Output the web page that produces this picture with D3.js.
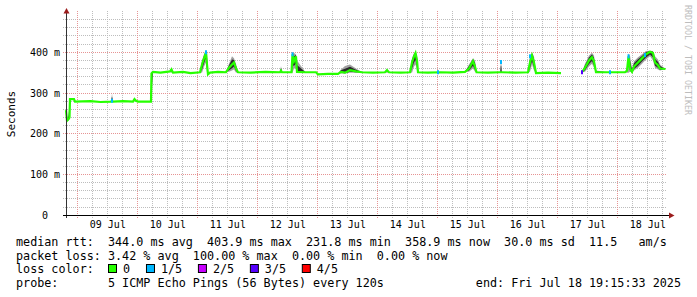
<!DOCTYPE html>
<html>
<head>
<meta charset="utf-8">
<script src="https://cdn.jsdelivr.net/npm/d3@7"></script>
<style>
  body { margin: 0; background: #fff; }
  svg text { font-family: "DejaVu Sans Mono", monospace; white-space: pre; }
</style>
</head>
<body>
<div id="app"></div>
<script>
/////////DATA/////////

const startTime = new Date(2025, 6, 8, 19, 15, 33);
const endTime = new Date(2025, 6, 18, 19, 15, 33);

// hours since start, median rtt (ms), smoke top / bottom (ms, null = no smoke)
const hours = [0.2, 0.6, 1.2, 1.6, 1.8, 3.4, 3.8, 10, 14, 18.2, 18.6, 19, 23, 27, 27.6, 28.2, 29, 34.2, 34.4, 35,
  38, 41.8, 42.4, 43, 47, 50, 53.8, 54.6, 55.4, 56.2, 56.6, 57, 57.8, 61, 64.2, 65.4, 66.6, 67.4, 68.2, 69,
  74, 80, 85.8, 86.2, 86.6, 90.4, 90.8, 91.4, 92.2, 92.6, 96, 100.2, 101, 105, 109, 110.2, 111.8, 113.8, 116.2, 118.6,
  123, 127.8, 128.6, 129.4, 134, 137.8, 138.6, 139.4, 140, 140.6, 141, 145, 150, 155, 159.8, 161.4, 163, 163.8, 164.4, 169,
  173.9, 174.1, 174.3, 174.5, 180, 185, 185.8, 186.6, 187.4, 188.2, 193, 198.2, 198.4, 206.6, 207.8, 209.4, 210.6, 211.4, 212.2, 217, 223.8,
  224.6, 225.2, 225.8, 226.6, 227.4, 229, 230.6, 232.2, 233.8, 235, 235.8, 237, 237.8, 240];

const median = [258, 232, 236, 240, 285, 285, 279, 280, 278, 279, 281, 279, 280, 279, 285, 281, 279, 279, 348, 352,
  350, 353, 358, 350, 352, 349, 351, 370, 385, 400, 370, 346, 350, 352, 351, 362, 370, 375, 360, 351,
  350, 352, 351, 355, 351, 351, 395, 378, 390, 352, 351, 351, 346, 347, 347, 352, 350, 356, 353, 351,
  350, 351, 356, 351, 350, 351, 375, 390, 398, 380, 351, 350, 351, 350, 352, 360, 378, 365, 351, 350,
  351, 351, 351, 351, 350, 351, 375, 392, 375, 349, 350, 349, null, 351, 362, 380, 388, 378, 351, 351, 351,
  355, 390, 360, 352, 365, 375, 385, 395, 401, 398, 375, 368, 360, 359];

const smokeTop = [262, 240, 245, 286, 287, null, null, null, null, null, 298, null, null, null, 287, null, null, null, 352, null,
  null, null, 364, null, null, null, null, 380, 395, 403.9, 400, null, null, null, null, 372, 390, 385, 372, null,
  null, null, null, 366, null, null, 400, 398, 395, 380, null, null, null, null, null, 358, 366, 370, 360, null,
  null, null, 358, null, null, null, 385, 398, 400, 395, null, null, null, null, null, 370, 385, 380, null, null,
  null, 377, 377, null, null, null, 390, 399, 390, null, null, null, null, null, 372, 392, 399, 392, 355, null, null,
  362, 397, 392, 360, 378, 388, 395, 403, 404, 403, 390, 382, 370, null];

const smokeBot = [240, 232, 232, 236, 283, null, null, null, null, null, 279, null, null, null, 280, null, null, null, 279, null,
  null, null, 350, null, null, null, null, 350, 365, 375, 350, null, null, null, null, 352, 355, 358, 350, null,
  null, null, null, 350, null, null, 350, 360, 360, 350, null, null, null, null, null, 348, 348, 350, 350, null,
  null, null, 350, null, null, null, 350, 365, 370, 355, null, null, null, null, null, 352, 360, 352, null, null,
  null, 350, 350, null, null, null, 352, 370, 355, null, null, null, null, null, 352, 365, 372, 362, 350, null, null,
  350, 350, 352, 350, 355, 362, 372, 382, 390, 380, 362, 358, 355, null];

// loss events: hours since start, loss level (of 5), median at that moment
const lossHours = [18.6, 56.2, 90.8, 149.0, 174.2, 185.8, 206.6, 217.8, 225.2, 231.8];
const lossLevel = [1, 1, 1, 1, 1, 1, 3, 1, 1, 1];
const lossMs = [281, 400, 395, 351, 376, 390, 351, 351, 390, 393];

const lossLabels = ['0', '1/5', '2/5', '3/5', '4/5'];
const lossColors = ['#26ff00', '#00b8ff', '#c800ff', '#5500ff', '#ff0000'];

const yTicks = [0, 100, 200, 300, 400];

const rttStats = [['344.0', 'ms avg'], ['403.9', 'ms max'], ['231.8', 'ms min'], ['358.9', 'ms now'], ['30.0', 'ms sd'], ['11.5', '  am/s']];
const lossStats = [['3.42', '% avg'], ['100.00', '% max'], ['0.00', '% min'], ['0.00', '% now']];
const probeText = '5 ICMP Echo Pings (56 Bytes) every 120s';
const endText = 'end: Fri Jul 18 19:15:33 2025';

/////////SVG/////////

const w = 697, h = 297;
const svg = d3.select('#app').append('svg')
  .attr('width', w)
  .attr('height', h);

const toDate = (hh) => new Date(startTime.getTime() + hh * 3600e3);
const points = hours.map((hh, i) => ({
  t: toDate(hh), med: median[i],
  top: smokeTop[i] == null ? median[i] : smokeTop[i],
  bot: smokeBot[i] == null ? median[i] : smokeBot[i]
}));

const xScale = d3.scaleTime().domain([startTime, endTime]).range([65.5, 665.5]);
const yScale = d3.scaleLinear().domain([0, 500]).range([215.3, 11.5]);
const crisp = (v) => Math.floor(v) + 0.5;

/////////GRID/////////

const grid = svg.append('g');
const minorY = d3.range(20, 500, 20).filter(v => v % 100 !== 0);
const majorY = d3.range(100, 500, 100);

grid.selectAll('.hminor').data(minorY).join('line')
  .attr('x1', 63).attr('x2', 666)
  .attr('y1', d => crisp(yScale(d))).attr('y2', d => crisp(yScale(d)))
  .attr('stroke', '#bdbdbd').attr('stroke-dasharray', '1,1');

const sixHours = d3.timeHour.every(6).range(startTime, endTime);
grid.selectAll('.vminor').data(sixHours.filter(d => d.getHours() !== 0)).join('line')
  .attr('x1', d => crisp(xScale(d))).attr('x2', d => crisp(xScale(d)))
  .attr('y1', 11).attr('y2', 218)
  .attr('stroke', '#bdbdbd').attr('stroke-dasharray', '1,1');

grid.selectAll('.hmajor').data(majorY).join('line')
  .attr('x1', 63).attr('x2', 666)
  .attr('y1', d => crisp(yScale(d))).attr('y2', d => crisp(yScale(d)))
  .attr('stroke', '#e69494').attr('stroke-dasharray', '1,1');

grid.selectAll('.vmajor').data(d3.timeDay.range(startTime, endTime)).join('line')
  .attr('x1', d => crisp(xScale(d))).attr('x2', d => crisp(xScale(d)))
  .attr('y1', 11).attr('y2', 218)
  .attr('stroke', '#e69494').attr('stroke-dasharray', '1,1');

/////////SMOKE & MEDIAN/////////

const defined = d => d.med != null;

svg.append('path')
  .datum(points)
  .attr('fill', '#a2a2a2')
  .attr('d', d3.area().defined(defined)
    .x(d => xScale(d.t)).y0(d => yScale(d.bot)).y1(d => yScale(d.top)));

svg.append('path')
  .datum(points)
  .attr('fill', '#2a2a2a')
  .attr('d', d3.area().defined(defined)
    .x(d => xScale(d.t))
    .y0(d => yScale(d.med - (d.med - d.bot) * 0.6))
    .y1(d => yScale(d.med + (d.top - d.med) * 0.6)));

svg.append('path')
  .datum(points)
  .attr('fill', 'none')
  .attr('stroke', lossColors[0])
  .attr('stroke-width', 2.2)
  .attr('d', d3.line().defined(defined).x(d => xScale(d.t)).y(d => yScale(d.med)));

svg.selectAll('.loss').data(lossHours).join('rect')
  .attr('x', d => xScale(toDate(d)) - 1)
  .attr('y', (d, i) => yScale(lossMs[i]) - 2)
  .attr('width', 2).attr('height', 4)
  .attr('fill', (d, i) => lossColors[lossLevel[i]]);

/////////AXES/////////

const yAxis = d3.axisLeft(yScale).tickValues(yTicks).tickSize(0).tickPadding(6)
  .tickFormat(d => d === 0 ? '0' : d + ' m');
const gy = svg.append('g').attr('transform', 'translate(66,0)').call(yAxis);
gy.select('.domain').remove();
gy.selectAll('text').attr('font-size', '10px').attr('font-family', null).attr('fill', '#000')
  .attr('x', d => d === 0 ? -18 : -6);

const noons = d3.timeDay.range(startTime, endTime).map(d => d3.timeHour.offset(d, 12)).filter(d => d < endTime);
const xAxis = d3.axisBottom(xScale).tickValues(noons).tickSize(0).tickPadding(5)
  .tickFormat(d3.timeFormat('%d Jul'));
const gx = svg.append('g').attr('transform', 'translate(0,215.5)').call(xAxis);
gx.select('.domain').remove();
gx.selectAll('text').attr('font-size', '10px').attr('font-family', null).attr('fill', '#000');

// axis lines and arrows
svg.append('line').attr('x1', 66.5).attr('x2', 66.5).attr('y1', 218).attr('y2', 11)
  .attr('stroke', '#333');
svg.append('line').attr('x1', 63).attr('x2', 670).attr('y1', 215.5).attr('y2', 215.5)
  .attr('stroke', '#000');
svg.append('path').attr('d', 'M63.5,13.5 L66.5,8 L69.5,13.5 Z').attr('fill', '#9b1c1c');
svg.append('path').attr('d', 'M669,212.5 L674.5,215.5 L669,218.5 Z').attr('fill', '#9b1c1c');

svg.append('text')
  .attr('transform', 'translate(15,114) rotate(-90)')
  .attr('text-anchor', 'middle')
  .attr('font-size', '11px')
  .text('Seconds');

svg.append('text')
  .attr('transform', 'translate(685,5) rotate(90)')
  .attr('font-size', '8.3px')
  .attr('fill', '#bdbdbd')
  .text('RRDTOOL / TOBI OETIKER');

/////////LEGEND/////////

const fs = 11.75, lx = 16;
const row1 = 'median rtt:  ' + rttStats.map(s => s[0] + ' ' + s[1]).join('  ');
const row2 = 'packet loss: ' + lossStats.map(s => s[0] + ' ' + s[1]).join('  ');
const row4 = 'probe:       ' + probeText;

const legend = svg.append('g').attr('font-size', fs + 'px');
legend.append('text').attr('x', lx).attr('y', 246).text(row1);
legend.append('text').attr('x', lx).attr('y', 259.5).text(row2);
legend.append('text').attr('x', lx).attr('y', 273).text('loss color:');
legend.append('text').attr('x', lx).attr('y', 286.5).text(row4);
legend.append('text').attr('x', 681).attr('y', 286.5).attr('text-anchor', 'end').text(endText);

let bx = 108;
lossLabels.forEach((lab, i) => {
  legend.append('rect')
    .attr('x', bx + 0.5).attr('y', 264.5).attr('width', 8).attr('height', 8)
    .attr('fill', lossColors[i]).attr('stroke', '#000');
  legend.append('text').attr('x', bx + 15).attr('y', 273).text(lab);
  bx += 15 + lab.length * 6.98 + 16;
});
</script>
</body>
</html>
